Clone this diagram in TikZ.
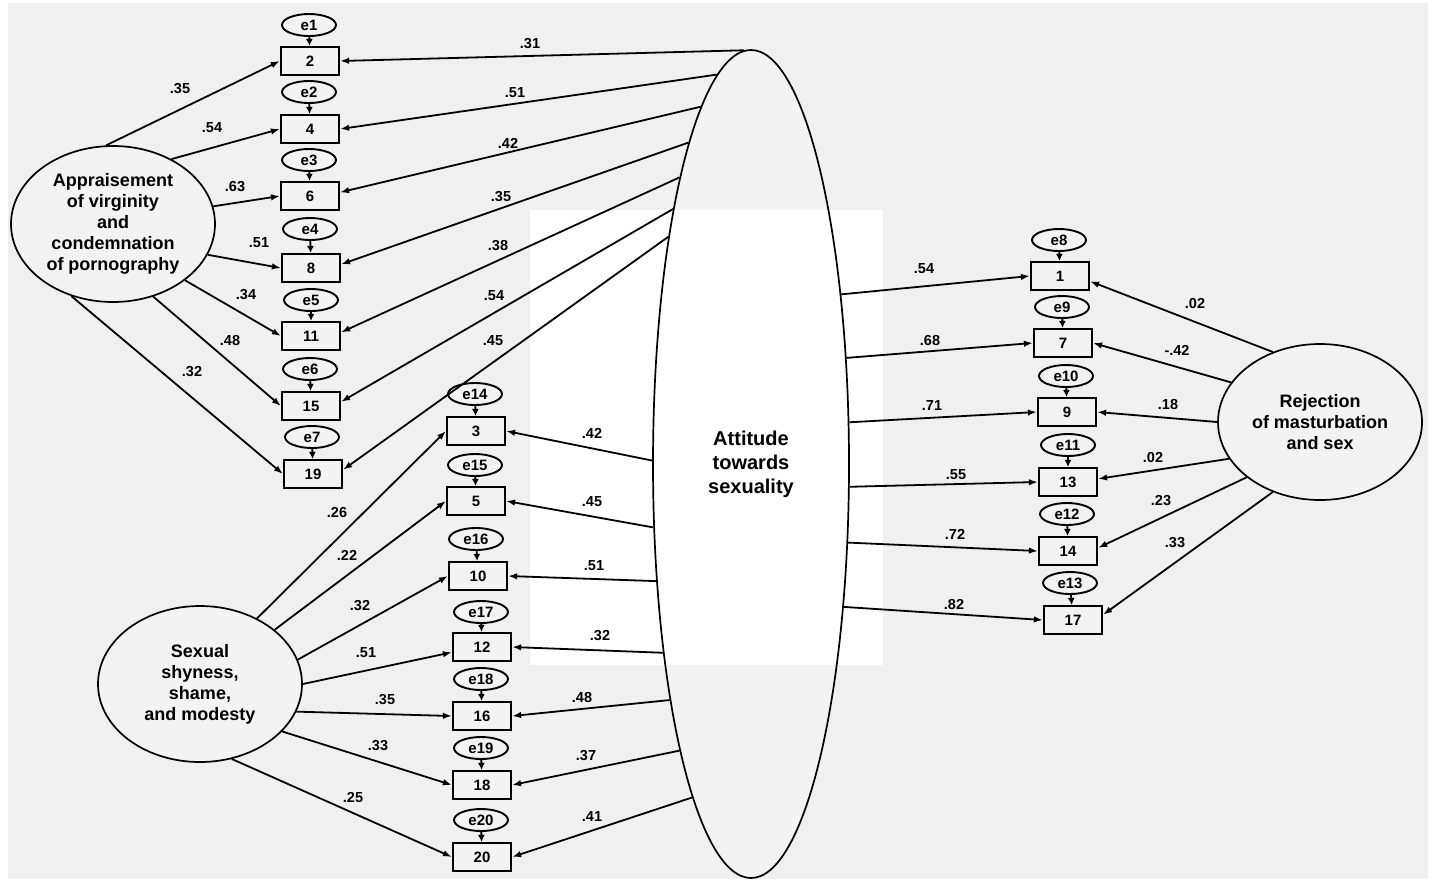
\documentclass[tikz,border=0pt]{standalone}
\usepackage{fontspec}
\setmainfont{Liberation Sans}
\usetikzlibrary{arrows.meta,shapes.geometric}
\definecolor{bggray}{RGB}{240,240,240}
\definecolor{nodegray}{RGB}{243,243,243}

\begin{document}
\begin{tikzpicture}[x=1pt,y=-1pt,
  ind/.style={draw, line width=2.2pt, fill=nodegray, minimum width=58pt, minimum height=28pt,
    inner sep=0pt, font=\fontsize{15}{18}\selectfont\bfseries},
  err/.style={draw, ellipse, line width=1.9pt, fill=nodegray, minimum width=54pt, minimum height=22pt,
    inner sep=0pt, font=\fontsize{15}{18}\selectfont\bfseries},
  lat/.style={draw, ellipse, line width=1.7pt, fill=nodegray, minimum width=204pt, minimum height=156pt,
    inner sep=0pt, align=center, font=\fontsize{18}{21}\selectfont\bfseries},
  conn/.style={line width=1.8pt, -{Latex[length=9pt,width=6.5pt]}},
  errarr/.style={line width=1.8pt, -{Latex[length=7pt,width=7pt]}},
  wt/.style={inner sep=0pt, font=\fontsize{14.5}{17}\selectfont\bfseries},
]
\useasboundingbox (0,0) rectangle (1431,879);
\fill[white] (0,0) rectangle (1431,879);
\fill[bggray] (8,3) rectangle (1428,879);

% central latent factor: fill first, then the white panel, then its outline
\node[ellipse, fill=nodegray, minimum width=196pt, minimum height=828pt, inner sep=0pt] (Bfill) at (751,464) {};
\fill[white] (530,210) rectangle (883,665);
\node[draw, ellipse, line width=1.7pt, minimum width=196pt, minimum height=828pt, inner sep=0pt,
  align=center, font=\fontsize{20}{24}\selectfont\bfseries] (B) at (751,464) {Attitude\\towards\\sexuality};

% other latent factors
\node[lat] (A) at (113,224) {Appraisement\\of virginity\\and\\condemnation\\of pornography};
\node[lat] (S) at (200,684) {Sexual\\shyness,\\shame,\\and modesty};
\node[lat] (R) at (1320,422) {Rejection\\of masturbation\\and sex};

% indicators with their error terms
\foreach \n/\x/\y/\e/\ex/\ey/\el in {
  2/310/61/1/309/25/e1, 4/310/129/2/309/92/e2, 6/310/196/3/309/160/e3,
  8/311/268/4/310/229/e4, 11/311/336/5/311/300/e5, 15/311/406/6/310/369/e6,
  19/313/474/7/312/437/e7,
  3/476/431/14/475/394/e14, 5/476/501/15/475/465/e15, 10/478/576/16/476/539/e16,
  12/482/647/17/481/612/e17, 16/482/716/18/481/679/e18, 18/482/785/19/481/748/e19,
  20/482/857/20/481/820/e20,
  1/1060/276/8/1059/240/e8, 7/1063/343/9/1062/307/e9, 9/1067/412/10/1066/376/e10,
  13/1068/482/11/1068/445/e11, 14/1068/551/12/1067/514/e12, 17/1073/620/13/1070/583/e13}{
  \node[ind] (b\n) at (\x,\y) {\n};
  \node[err] (e\e) at (\ex,\ey) {\el};
  \draw[errarr] (e\e) -- (b\n);
}

% loadings of the first factor
\draw[conn] (A.95.9) -- (b2.west);
\draw[conn] (A.48.2) -- (b4.west);
\draw[conn] (A.10.4) -- (b6.west);
\draw[conn] (A.-18.3) -- (b8.west);
\draw[conn] (A.-38.4) -- (b11.west);
\draw[conn] (A.-61.6) -- (b15.west);
\draw[conn] (A.-120) -- (b19.west);

% loadings of the general factor, left side
\draw[conn] (B.91.5) -- (b2.east);
\draw[conn] (B.95.7) -- (b4.east);
\draw[conn] (B.98.5) -- (b6.7);
\draw[conn] (B.101.6) -- (b8.7);
\draw[conn] (B.104.2) -- (b11.7);
\draw[conn] (B.107.1) -- (b15.8);
\draw[conn] (B.110.1) -- (b19.8);
\draw[conn] (B.178.8) -- (b3.east);
\draw[conn] (B.213.7) -- (b5.east);
\draw[conn] (B.231) -- (b10.east);
\draw[conn] (B.245.2) -- (b12.east);
\draw[conn] (B.251.8) -- (b16.east);
\draw[conn] (B.256.5) -- (b18.east);
\draw[conn] (B.260.5) -- (b20.east);

% loadings of the general factor, right side
\draw[conn] (B.62.6) -- (b1.west);
\draw[conn] (B.48.2) -- (b7.west);
\draw[conn] (B.23.3) -- (b9.west);
\draw[conn] (B.-13.2) -- (b13.west);
\draw[conn] (B.-39.4) -- (b14.west);
\draw[conn] (B.-57.7) -- (b17.west);

% loadings of the third factor
\draw[conn] (S.49.2) -- (b3.west);
\draw[conn] (S.36.3) -- (b5.west);
\draw[conn] (S.14.9) -- (b10.west);
\draw[conn] (S.0.6) -- (b12.190);
\draw[conn] (S.-16.6) -- (b16.west);
\draw[conn] (S.-30.9) -- (b18.west);
\draw[conn] (S.-67.9) -- (b20.west);

% loadings of the fourth factor
\draw[conn] (R.124) -- (b1.-10);
\draw[conn] (R.156) -- (b7.east);
\draw[conn] (R.180.5) -- (b9.east);
\draw[conn] (R.202) -- (b13.6);
\draw[conn] (R.217) -- (b14.6);
\draw[conn] (R.236) -- (b17.10);

% standardized weights
\foreach \i/\x/\y/\t in {
  a1/180/89/.35, a2/212/128/.54, a3/235/187/.63, a4/259/243/.51, a5/246/295/.34, a6/230/340/.48, a7/192/372/.32,
  g1/530/44/.31, g2/515/93/.51, g3/508/143/.42, g4/501/197/.35, g5/498/246/.38, g6/494/296/.54, g7/493/341/.45,
  g8/592/433/.42, g9/592/502/.45, g10/594/566/.51, g11/600/636/.32, g12/582/697/.48, g13/586/756/.37, g14/592/816/.41,
  s1/337/512/.26, s2/347/555/.22, s3/360/606/.32, s4/366/653/.51, s5/385/700/.35, s6/378/746/.33, s7/353/797/.25,
  h1/924/269/.54, h2/930/340/.68, h3/932/406/.71, h4/956/475/.55, h5/955/534/.72, h6/954/604/.82,
  r1/1195/303/.02, r2/1177/350/-.42, r3/1168/404/.18, r4/1153/457/.02, r5/1161/501/.23, r6/1175/543/.33}{
  \node[wt] (w\i) at (\x,\y) {\t};
}
\end{tikzpicture}
\end{document}
